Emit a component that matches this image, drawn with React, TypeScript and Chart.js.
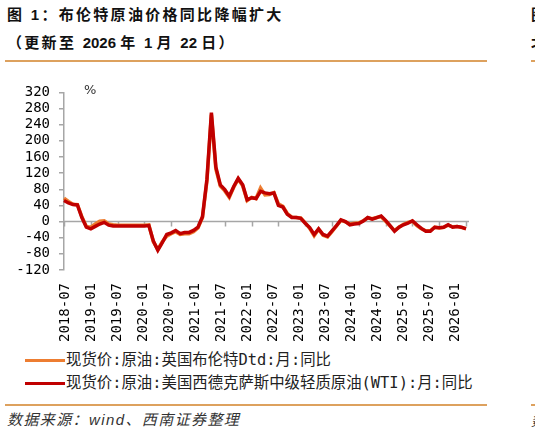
import React, { useEffect, useRef } from "react";
import { Chart, registerables } from "chart.js";

Chart.register(...registerables);

// monthly series, first point 2018-07
const startYear = 2018;
const startMonth = 7;

const brentYoY = [
  58, 50, 43, 42, 12, -12, -14, -6, 1, 2,
  -6, -8, -9, -9, -9, -9, -9, -9, -9, -8,
  -50, -69, -50, -36, -30, -25, -32, -30, -30, -25,
  -16, 10, 100, 265, 130, 88, 76, 60, 85, 105,
  89, 52, 60, 57, 83, 66, 67, 72, 44, 38,
  20, 11, 10, 9, -3, -17, -35, -19, -34, -38,
  -25, -11, 3, -1, -6, -4, -3, 2, 9, 7,
  10, 12, 1, -11, -22, -14, -7, -2, 1, -10,
  -18, -23, -23, -14, -16, -14, -9, -13, -12, -15,
  -17,
];

const wtiYoY = [
  52, 46, 42, 41, 10, -14, -18, -12, -6, -2,
  -9, -11, -11, -11, -11, -11, -11, -11, -11, -10,
  -48, -71, -52, -32, -28, -22, -30, -27, -27, -22,
  -14, 12, 105, 270, 135, 91, 79, 63, 87, 107,
  91, 54, 59, 57, 75, 71, 69, 71, 40, 36,
  18, 10, 10, 8, -4, -15, -32, -18, -32, -36,
  -23, -10, 4, 0, -8, -6, -5, 1, 10, 6,
  10, 14, 3, -10, -24, -14, -8, -4, 2, -8,
  -17, -24, -24, -14, -15, -14, -8, -14, -12, -14,
  -18,
];

const tickLabels = [
  "2018-07", "2019-01", "2019-07", "2020-01", "2020-07", "2021-01", "2021-07", "2022-01",
  "2022-07", "2023-01", "2023-07", "2024-01", "2024-07", "2025-01", "2025-07", "2026-01",
];

const seriesNames = [
  "现货价:原油:英国布伦特Dtd:月:同比",
  "现货价:原油:美国西德克萨斯中级轻质原油(WTI):月:同比",
];
const seriesColors = ["#ED7D31", "#C00000"];

const months: string[] = [];
for (let i = 0; i < wtiYoY.length; i++) {
  const m = startMonth - 1 + i;
  months.push(`${startYear + Math.floor(m / 12)}-${String((m % 12) + 1).padStart(2, "0")}`);
}

const axisGray = "#a6a6a6";
const ruleColor = "#DDA15E";
const monoFont = '"DejaVu Sans Mono", "Noto Sans CJK SC", monospace';

// x axis sits on the zero line, with tick marks every six months
const zeroAxis = {
  id: "zeroAxis",
  beforeDatasetsDraw(chart: any) {
    const { ctx, chartArea, scales } = chart;
    const y0 = scales.y.getPixelForValue(0);
    ctx.save();
    ctx.strokeStyle = axisGray;
    ctx.lineWidth = 1.5;
    ctx.beginPath();
    ctx.moveTo(chartArea.left, y0);
    ctx.lineTo(chartArea.right + 3, y0);
    for (let i = 0; i < months.length; i += 6) {
      const px = Math.round(scales.x.getPixelForValue(i)) + 0.5;
      ctx.moveTo(px, y0);
      ctx.lineTo(px, y0 + 5);
    }
    ctx.stroke();
    ctx.restore();
  },
};

const CrudeChart: React.FC = () => {
  const canvasRef = useRef<HTMLCanvasElement | null>(null);

  useEffect(() => {
    if (!canvasRef.current) return;
    const chart = new Chart(canvasRef.current, {
      type: "line",
      data: {
        labels: months,
        datasets: [
          { label: seriesNames[0], data: brentYoY, order: 2, borderColor: seriesColors[0], backgroundColor: seriesColors[0], borderWidth: 3.5, pointRadius: 0, tension: 0, clip: false },
          { label: seriesNames[1], data: wtiYoY, order: 1, borderColor: seriesColors[1], backgroundColor: seriesColors[1], borderWidth: 3.5, pointRadius: 0, tension: 0, clip: false },
        ],
      },
      options: {
        animation: false,
        responsive: true,
        maintainAspectRatio: false,
        layout: { padding: { top: 10, right: 34, left: 0, bottom: 0 } },
        plugins: { legend: { display: false }, tooltip: { enabled: false } },
        scales: {
          x: { type: "category", display: false, offset: false },
          x2: {
            type: "linear",
            position: "bottom",
            min: -0.0385,
            max: 15.423,
            afterBuildTicks: (s: any) => {
              s.ticks = tickLabels.map((_, i) => ({ value: i }));
            },
            afterFit: (s: any) => {
              s.height = 80;
            },
            grid: { display: false, drawTicks: false },
            border: { display: false },
            ticks: {
              autoSkip: false,
              maxRotation: 90,
              minRotation: 90,
              padding: 13,
              color: "#000",
              font: { family: monoFont, size: 14 },
              callback: (v: any) => tickLabels[Math.round(Number(v))] ?? "",
            },
          },
          y: {
            min: -120,
            max: 320,
            afterFit: (s: any) => {
              s.width = 64;
            },
            ticks: { stepSize: 40, autoSkip: false, padding: 9, color: "#000", font: { family: monoFont, size: 14 } },
            grid: { drawOnChartArea: false, drawTicks: true, tickLength: 5, color: axisGray, lineWidth: 1.5 },
            border: { color: axisGray, width: 1.5 },
          },
        },
      },
      plugins: [zeroAxis],
    });
    return () => {
      chart.destroy();
    };
  }, []);

  return <canvas ref={(ref) => (canvasRef.current = ref)} />;
};

const abs = (left: number, top: number, extra: React.CSSProperties = {}): React.CSSProperties => ({
  position: "absolute",
  left,
  top,
  whiteSpace: "nowrap",
  ...extra,
});

export default function App() {
  const titleFont: React.CSSProperties = {
    fontFamily: '"Liberation Sans", "Noto Sans CJK SC", sans-serif',
    fontWeight: 700,
    fontSize: 15,
    lineHeight: "20px",
    color: "#111",
  };
  const cjkSpaced: React.CSSProperties = { letterSpacing: "2.3px" };
  return (
    <div style={{ position: "fixed", left: 0, top: 0, width: 539, height: 436, overflow: "hidden", background: "#fff" }}>
      <div style={abs(7, 5, { ...titleFont, ...cjkSpaced })}>图 1：布伦特原油价格同比降幅扩大</div>
      <div style={abs(7, 33, titleFont)}>
        <span style={cjkSpaced}>（更新至 </span>2026 <span style={cjkSpaced}>年 </span>1 <span style={cjkSpaced}>月 </span>22 <span style={cjkSpaced}>日）</span>
      </div>
      <div style={abs(5, 60, { width: 482, height: 2, background: ruleColor })} />

      <div style={abs(531, 5, { width: 4, overflow: "hidden", ...titleFont })}>图 2</div>
      <div style={abs(531, 33, { width: 4, overflow: "hidden", ...titleFont })}>北</div>
      <div style={abs(531, 60, { width: 4, height: 2, background: ruleColor })} />

      <div style={abs(0, 75, { width: 500, height: 275 })}>
        <CrudeChart />
      </div>
      <div style={abs(84, 82, { fontFamily: '"DejaVu Sans", sans-serif', fontSize: 13, color: "#333" })}>%</div>

      {seriesNames.map((name, i) => (
        <div key={name} style={abs(25, 350 + i * 23, { display: "flex", alignItems: "center", height: 20 })}>
          <span style={{ display: "inline-block", width: 40, height: 3, background: seriesColors[i] }} />
          <span style={{ fontFamily: monoFont, fontSize: 15.4, color: "#222", lineHeight: "20px", marginLeft: 1 }}>{name}</span>
        </div>
      ))}

      <div style={abs(5, 404, { width: 482, height: 2, background: ruleColor })} />
      <div style={abs(531, 404, { width: 4, height: 2, background: ruleColor })} />
      <div
        style={abs(7, 410, {
          fontFamily: '"Liberation Sans", "Noto Sans CJK SC", sans-serif',
          fontStyle: "italic",
          fontSize: 15,
          lineHeight: "20px",
          letterSpacing: "1.4px",
          color: "#333",
        })}
      >
        数据来源：wind、西南证券整理
      </div>
      <div style={abs(531, 410, { width: 4, overflow: "hidden", fontStyle: "italic", fontSize: 15, lineHeight: "20px", fontFamily: '"Noto Sans CJK SC", sans-serif', color: "#333" })}>
        数据
      </div>
    </div>
  );
}
